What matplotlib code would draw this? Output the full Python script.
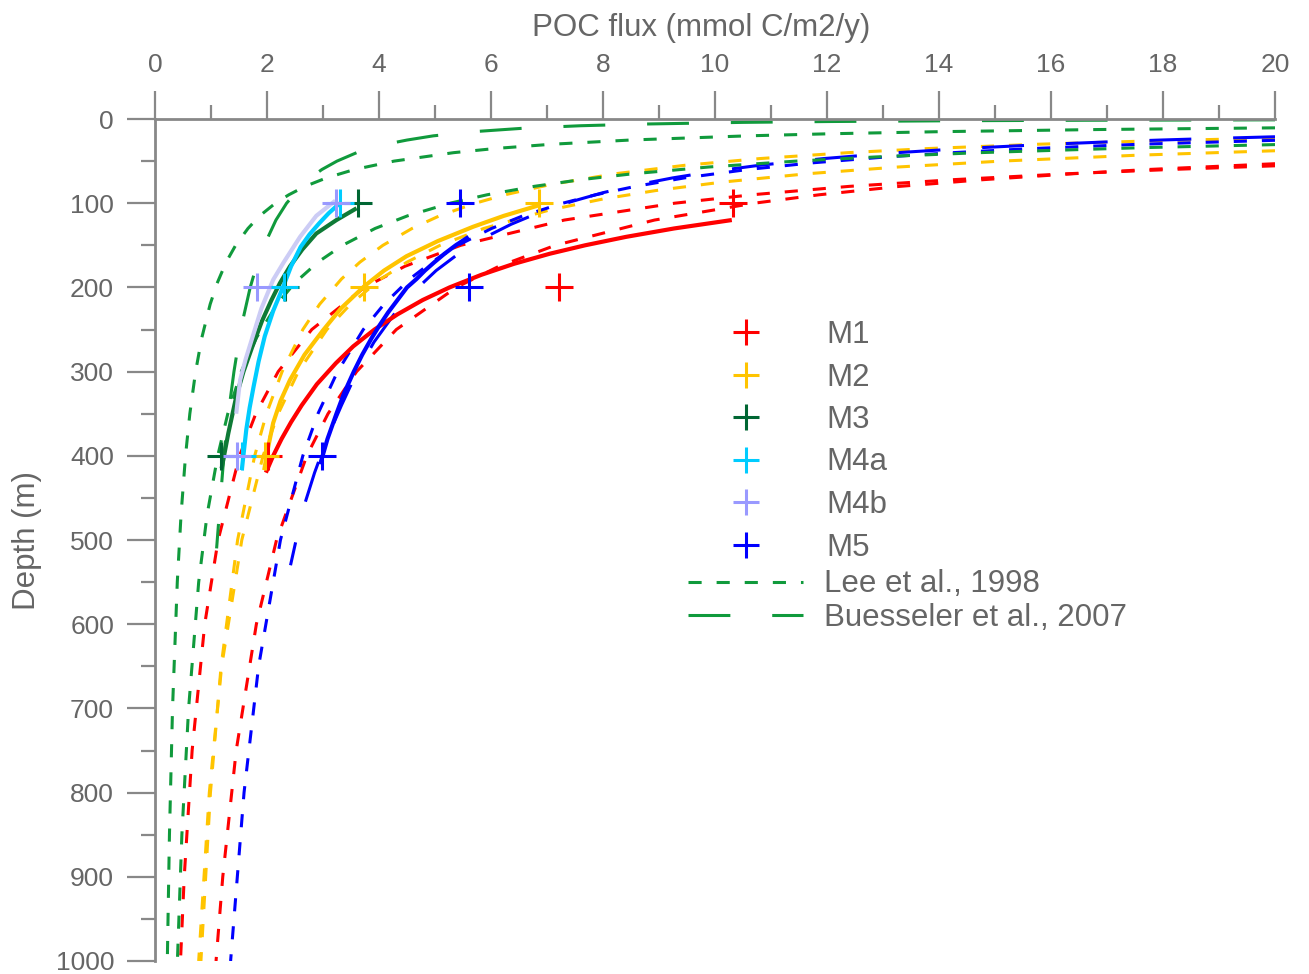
import matplotlib.pyplot as plt
from matplotlib.lines import Line2D
from matplotlib.ticker import MultipleLocator

plt.rcParams['font.family'] = ['Liberation Sans', 'DejaVu Sans']

# Sediment trap fluxes (mmol C/m2/y) at the three trap depths
trap_depth = [100, 200, 400]
flux_m1 = [10.32, 7.22, 2.02]
flux_m2 = [6.86, 3.73, 1.96]
flux_m3 = [3.63, 2.32, 1.17]
flux_m4a = [3.30, 2.30, 1.55]
flux_m4b = [3.24, 1.82, 1.46]
flux_m5 = [5.45, 5.61, 2.99]

# Fitted flux profiles (depth in m, flux)
m1_fit_depth = [120, 130, 140, 150, 160, 172, 185, 200, 215, 232, 250, 270, 290, 315, 340, 360, 380, 400, 420]
m1_fit_flux = [10.3, 9.27, 8.41, 7.68, 7.05, 6.41, 5.83, 5.26, 4.78, 4.33, 3.92, 3.54, 3.23, 2.89, 2.62, 2.43, 2.26, 2.11, 1.98]
m2_fit_depth = [102, 115, 128, 145, 163, 180, 199, 225, 251, 280, 310, 335, 361, 390, 417]
m2_fit_flux = [6.88, 6.23, 5.68, 5.05, 4.49, 4.09, 3.73, 3.32, 3.0, 2.67, 2.41, 2.24, 2.11, 2.02, 1.95]
m3_fit_depth = [106, 120, 136, 155, 175, 195, 215, 240, 270, 300, 330, 373, 415]
m3_fit_flux = [3.6, 3.24, 2.88, 2.63, 2.41, 2.23, 2.08, 1.91, 1.74, 1.58, 1.45, 1.31, 1.19]
m4a_fit_depth = [100, 112, 124, 137, 152, 175, 199, 228, 258, 288, 318, 343, 369, 393, 417]
m4a_fit_flux = [3.30, 3.10, 2.93, 2.76, 2.60, 2.43, 2.29, 2.11, 1.96, 1.85, 1.76, 1.69, 1.63, 1.59, 1.55]
m4b_fit_depth = [97, 115, 140, 170, 191, 225, 255, 285, 310, 350]
m4b_fit_flux = [3.22, 2.88, 2.59, 2.30, 2.11, 1.90, 1.76, 1.62, 1.52, 1.45]
m5_fit_depth = [140, 150, 160, 170, 180, 190, 200, 215, 230, 245, 260, 280, 300, 325, 350, 380, 410]
m5_fit_flux = [5.6, 5.37, 5.17, 4.99, 4.82, 4.67, 4.50, 4.33, 4.16, 4.01, 3.87, 3.70, 3.55, 3.38, 3.24, 3.08, 2.95]

# Upper / lower bounds of the fits
m1_lo_depth = [55.6, 60, 65, 72, 80, 90, 100, 120, 150, 175, 200, 250, 300, 350, 400, 500, 600, 750, 900, 1000]
m1_lo_flux = [20.0, 18.12, 16.3, 14.27, 12.4, 10.66, 9.28, 7.31, 5.46, 4.46, 3.74, 2.80, 2.20, 1.80, 1.51, 1.127, 0.888, 0.663, 0.522, 0.455]
m1_hi_depth = [53.1, 60, 65, 72, 80, 90, 100, 120, 150, 175, 200, 250, 300, 350, 400, 500, 600, 750, 900, 1000]
m1_hi_flux = [20.0, 17.72, 16.4, 14.8, 13.3, 11.86, 10.7, 8.92, 7.15, 6.14, 5.38, 4.31, 3.60, 3.09, 2.71, 2.17, 1.81, 1.45, 1.21, 1.09]
m2_lo_depth = [22.6, 26, 30, 35, 40, 47, 55, 65, 78, 90, 100, 115, 130, 150, 170, 190, 220, 250, 300, 350, 400, 500, 650, 800, 1000]
m2_lo_flux = [20.0, 17.78, 15.76, 13.84, 12.37, 10.8, 9.46, 8.22, 7.05, 6.25, 5.72, 5.08, 4.59, 4.07, 3.66, 3.33, 2.94, 2.64, 2.27, 1.99, 1.78, 1.475, 1.18, 0.99, 0.82]
m2_hi_depth = [37.7, 43, 50, 57, 65, 75, 85, 95, 108, 130, 150, 170, 190, 220, 250, 300, 350, 400, 500, 650, 800, 1000]
m2_hi_flux = [20.0, 17.54, 15.11, 13.27, 11.65, 10.12, 8.94, 8.0, 7.05, 5.87, 5.09, 4.50, 4.03, 3.49, 3.07, 2.56, 2.20, 1.93, 1.55, 1.19, 0.97, 0.78]
m5_lo_depth = [25.3, 30, 35, 40, 45, 52, 60, 70, 80, 90, 100, 115, 130, 150, 170, 190, 220, 250, 300, 350, 400, 500, 650, 800, 1000]
m5_lo_flux = [20.0, 17.58, 15.7, 14.24, 13.07, 11.75, 10.58, 9.45, 8.58, 7.87, 7.28, 6.57, 6.01, 5.41, 4.94, 4.55, 4.09, 3.72, 3.26, 2.91, 2.64, 2.24, 1.85, 1.59, 1.35]
m5_hi_depth = [21.1, 23, 25, 27, 30, 35, 40, 47, 55, 62, 70, 78, 87.5, 98, 110, 125, 140, 160, 180, 205, 230, 265, 300, 340, 380, 420, 460, 500, 530]
m5_hi_flux = [20.0, 18.94, 17.95, 17.08, 15.96, 14.45, 13.25, 11.94, 10.79, 9.99, 9.24, 8.62, 8.0, 7.44, 6.90, 6.36, 5.91, 5.42, 5.02, 4.62, 4.29, 3.91, 3.61, 3.33, 3.07, 2.85, 2.66, 2.52, 2.42]

# Literature profiles
lee_a_depth = [10.5, 12.5, 15, 17.5, 20, 25, 30, 35, 40, 50, 60, 70, 80, 90, 100, 115, 130, 150, 170, 195, 220, 260, 300, 350, 400, 470, 550, 700, 850, 1000]
lee_a_flux = [20.0, 16.85, 14.06, 12.07, 10.58, 8.48, 7.08, 6.08, 5.33, 4.27, 3.56, 3.06, 2.68, 2.39, 2.15, 1.87, 1.66, 1.44, 1.27, 1.11, 0.985, 0.835, 0.725, 0.622, 0.545, 0.465, 0.398, 0.313, 0.258, 0.22]
lee_b_depth = [30.4, 34, 40, 45, 50, 57, 65, 72, 80, 90, 100, 115, 130, 150, 170, 195, 220, 260, 300, 350, 400, 470, 550, 700, 850, 1000]
lee_b_flux = [20.0, 17.64, 14.7, 12.89, 11.45, 9.89, 8.54, 7.61, 6.77, 5.93, 5.27, 4.51, 3.93, 3.35, 2.91, 2.49, 2.18, 1.81, 1.54, 1.30, 1.12, 0.93, 0.78, 0.60, 0.48, 0.40]
buess_depth = [1, 1.5, 2, 3, 4, 6, 8, 11, 15, 20, 25, 30, 40, 50, 60, 70, 80, 100, 120, 150, 175, 200, 250, 300, 350, 400, 450, 510]
buess_flux = [20.0, 16.6, 14.5, 12.04, 10.5, 8.72, 7.6, 6.57, 5.7, 4.97, 4.5, 4.12, 3.6, 3.25, 2.98, 2.77, 2.61, 2.35, 2.16, 1.95, 1.81, 1.70, 1.53, 1.41, 1.31, 1.23, 1.17, 1.10]

sites = ['M1', 'M2', 'M3', 'M4a', 'M4b', 'M5']
marker_colors = ['#ff0000', '#ffc400', '#006633', '#00ccff', '#9999ff', '#0000ff']
fit_colors = ['#ff0000', '#ffc400', '#0e7a36', '#00ccff', '#ccccf5', '#0000ff']
lit_green = '#109a3c'

axis_grey = '#888888'
text_grey = '#666666'

short_dash = (0, (4.3, 4.9))
long_dash = (0, (13.7, 13.7))


def setup_axes(fig):
    ax = fig.add_axes([155 / 1309, 1 - 961 / 974, 1120 / 1309, 842 / 974])
    ax.set_xlim(0, 20)
    ax.set_ylim(1000, 0)

    # x axis on top, depth axis on the left only
    ax.xaxis.tick_top()
    ax.xaxis.set_label_position('top')
    for side in ['right', 'bottom']:
        ax.spines[side].set_visible(False)
    for side in ['top', 'left']:
        ax.spines[side].set_color(axis_grey)
        ax.spines[side].set_linewidth(2)

    ax.xaxis.set_major_locator(MultipleLocator(2))
    ax.xaxis.set_minor_locator(MultipleLocator(1))
    ax.yaxis.set_major_locator(MultipleLocator(100))
    ax.yaxis.set_minor_locator(MultipleLocator(50))
    ax.tick_params(which='both', direction='out', color=axis_grey, width=1.6,
                   labelcolor=text_grey, labelsize=19)
    ax.tick_params(which='major', length=20)
    ax.tick_params(which='minor', length=10)
    ax.tick_params(axis='x', which='major', pad=10.5)
    ax.tick_params(axis='y', which='major', pad=9.5)

    ax.set_xlabel('POC flux (mmol C/m2/y)', fontsize=22.5, color=text_grey)
    ax.xaxis.set_label_coords(0.488, 1.0 + 83 / 842)
    ax.set_ylabel('Depth (m)', fontsize=22.5, color=text_grey, labelpad=9.5)
    return ax


def draw_profiles(ax):
    # bounds of the fits
    ax.plot(m1_lo_flux, m1_lo_depth, color=fit_colors[0], lw=2.2, ls=short_dash)
    ax.plot(m1_hi_flux, m1_hi_depth, color=fit_colors[0], lw=2.2, ls=short_dash)
    ax.plot(m2_lo_flux, m2_lo_depth, color=fit_colors[1], lw=2.2, ls=short_dash)
    ax.plot(m2_hi_flux, m2_hi_depth, color=fit_colors[1], lw=2.2, ls=short_dash)
    ax.plot(m5_lo_flux, m5_lo_depth, color=fit_colors[5], lw=2.2, ls=short_dash)
    ax.plot(m5_hi_flux, m5_hi_depth, color=fit_colors[5], lw=2.2, ls=long_dash)

    # Lee et al. 1998 range and Buesseler et al. 2007
    ax.plot(lee_a_flux, lee_a_depth, color=lit_green, lw=2.2, ls=short_dash)
    ax.plot(lee_b_flux, lee_b_depth, color=lit_green, lw=2.2, ls=short_dash)
    ax.plot(buess_flux, buess_depth, color=lit_green, lw=2.2, ls=long_dash)

    # fitted profiles
    fits = [(m1_fit_flux, m1_fit_depth), (m2_fit_flux, m2_fit_depth),
            (m3_fit_flux, m3_fit_depth), (m4a_fit_flux, m4a_fit_depth),
            (m4b_fit_flux, m4b_fit_depth), (m5_fit_flux, m5_fit_depth)]
    for (fx, fz), c in zip(fits, fit_colors):
        ax.plot(fx, fz, color=c, lw=3, solid_capstyle='butt')

    # trap data
    obs = [flux_m1, flux_m2, flux_m3, flux_m4a, flux_m4b, flux_m5]
    for fx, c in zip(obs, marker_colors):
        ax.plot(fx, trap_depth, ls='none', marker='+', ms=20, mew=2.2, color=c, zorder=4)


def draw_legend(ax, fig):
    site_handles = [Line2D([], [], ls='none', marker='+', ms=19, mew=2.2, color=c)
                    for c in marker_colors]
    leg1 = ax.legend(site_handles, sites, loc='upper left',
                     bbox_to_anchor=(688 / 1309, 1 - 320 / 974), bbox_transform=fig.transFigure,
                     frameon=False, fontsize=22.5, labelcolor=text_grey, handlelength=3.68,
                     handletextpad=0.74, labelspacing=0.40, borderpad=0, borderaxespad=0)
    ax.add_artist(leg1)

    lit_handles = [Line2D([], [], color=lit_green, lw=2.2, ls=short_dash),
                   Line2D([], [], color=lit_green, lw=2.2, ls=long_dash)]
    ax.legend(lit_handles, ['Lee et al., 1998', 'Buesseler et al., 2007'], loc='upper left',
              bbox_to_anchor=(688 / 1309, 1 - 569.5 / 974), bbox_transform=fig.transFigure,
              frameon=False, fontsize=22.5, labelcolor=text_grey, handlelength=3.68,
              handletextpad=0.67, labelspacing=0.12, borderpad=0, borderaxespad=0)


fig = plt.figure(figsize=(13.09, 9.74), dpi=100)
ax = setup_axes(fig)
draw_profiles(ax)
draw_legend(ax, fig)
fig.savefig('out.png', dpi=100)
